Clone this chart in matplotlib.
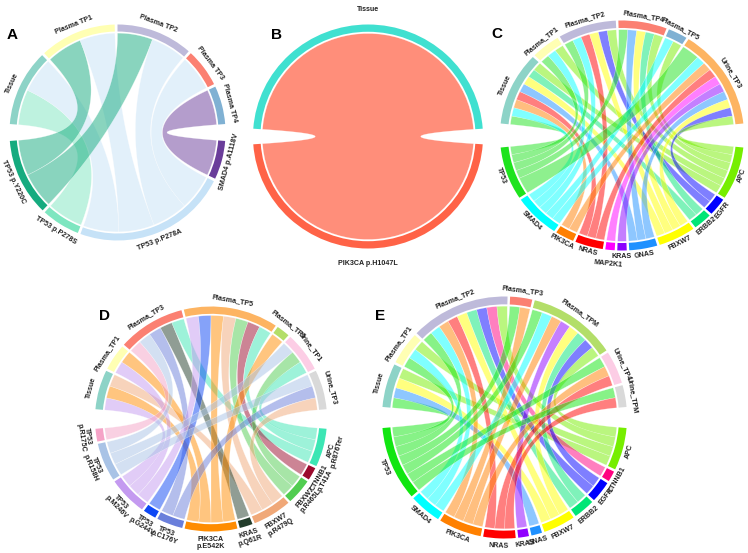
import numpy as np
import matplotlib
matplotlib.use("Agg")
import matplotlib.pyplot as plt
from matplotlib.patches import Wedge, Polygon
from matplotlib.colors import to_rgba

plt.rcParams['font.family'] = ['Liberation Sans', 'DejaVu Sans']

W, H = 748, 553

# --- panel A ---
A_samples = ['Tissue', 'Plasma TP1', 'Plasma TP2', 'Plasma TP3', 'Plasma TP4']
A_scol = ['#8dd3c7', '#ffffb3', '#bebada', '#fb8072', '#80b1d3']
A_genes = ['SMAD4 p.A1118V', 'TP53 p.P278A', 'TP53 p.P278S', 'TP53 p.Y220C']
A_gcol = ['#6a3d9a', '#c6e2f7', '#7ee6c0', '#15ab7f']
A_links = [('Tissue', 'TP53 p.P278S', 1), ('Tissue', 'TP53 p.P278A', 1),
           ('Plasma TP1', 'TP53 p.Y220C', 1), ('Plasma TP1', 'TP53 p.P278A', 1),
           ('Plasma TP2', 'TP53 p.Y220C', 1), ('Plasma TP2', 'TP53 p.P278A', 1),
           ('Plasma TP3', 'TP53 p.P278A', 1), ('Plasma TP4', 'SMAD4 p.A1118V', 1)]

# --- panel B ---
B_samples = ['Tissue']
B_scol = ['#40e0d0']
B_genes = ['PIK3CA p.H1047L']
B_gcol = ['#ff6347']
B_links = [('Tissue', 'PIK3CA p.H1047L', 1)]

# --- panel C ---
C_samples = ['Tissue', 'Plasma_TP1', 'Plasma_TP2', 'Plasma_TP4', 'Plasma_TP5', 'Urine_TP3']
C_scol = ['#8dd3c7', '#ffffb3', '#bebada', '#fb8072', '#80b1d3', '#fdb462']
C_genes = ['APC', 'EGFR', 'ERBB2', 'FBXW7', 'GNAS', 'KRAS', 'MAP2K1', 'NRAS', 'PIK3CA', 'SMAD4', 'TP53']
C_gcol = ['#76ee00', '#0000ff', '#00e676', '#ffff00', '#1e90ff', '#8b00ff', '#ff00ff',
          '#ff0000', '#ff7f00', '#00ffff', '#1ee31e']
C_links = [('Tissue', 'TP53', 1), ('Tissue', 'SMAD4', 1), ('Tissue', 'PIK3CA', 1), ('Tissue', 'NRAS', 1),
           ('Tissue', 'GNAS', 1), ('Tissue', 'FBXW7', 1), ('Tissue', 'ERBB2', 1), ('Tissue', 'APC', 1),
           ('Plasma_TP1', 'TP53', 1), ('Plasma_TP1', 'SMAD4', 1), ('Plasma_TP1', 'APC', 1),
           ('Plasma_TP2', 'TP53', 1), ('Plasma_TP2', 'SMAD4', 1), ('Plasma_TP2', 'NRAS', 1),
           ('Plasma_TP2', 'FBXW7', 1), ('Plasma_TP2', 'EGFR', 1), ('Plasma_TP2', 'APC', 1),
           ('Plasma_TP4', 'TP53', 1), ('Plasma_TP4', 'GNAS', 1), ('Plasma_TP4', 'FBXW7', 1),
           ('Plasma_TP4', 'ERBB2', 1), ('Plasma_TP4', 'APC', 1),
           ('Plasma_TP5', 'SMAD4', 1), ('Plasma_TP5', 'APC', 1),
           ('Urine_TP3', 'TP53', 2), ('Urine_TP3', 'SMAD4', 1), ('Urine_TP3', 'PIK3CA', 1),
           ('Urine_TP3', 'NRAS', 1), ('Urine_TP3', 'MAP2K1', 1), ('Urine_TP3', 'KRAS', 1),
           ('Urine_TP3', 'GNAS', 1), ('Urine_TP3', 'FBXW7', 1), ('Urine_TP3', 'EGFR', 1),
           ('Urine_TP3', 'APC', 1)]

# --- panel D ---
D_samples = ['Tissue', 'Plasma_TP1', 'Plasma_TP3', 'Plasma_TP5', 'Plasma_TP6', 'Urine_TP1', 'Urine_TP3']
D_scol = ['#8dd3c7', '#ffffb3', '#fb8072', '#fdb462', '#b3de69', '#fccde5', '#d9d9d9']
D_genes = ['APC\np.R876Ter', 'CTNNB1\np.T41A', 'FBXW7\np.R465L', 'FBXW7\np.R479Q', 'KRAS\np.Q61R',
           'PIK3CA\np.E542K', 'TP53\np.C176Y', 'TP53\np.G244V', 'TP53\np.M246V', 'TP53\np.R158H',
           'TP53\np.R175C']
D_gcol = ['#3ce6b4', '#9b0a2d', '#50cd50', '#f0a878', '#233d2b', '#ff8c00', '#6a7fdb',
          '#0d47f5', '#c49af0', '#a9c3e6', '#f5a3c7']
D_links = [('Tissue', 'TP53\np.M246V', 1), ('Tissue', 'PIK3CA\np.E542K', 1), ('Tissue', 'FBXW7\np.R479Q', 1),
           ('Plasma_TP1', 'TP53\np.M246V', 1), ('Plasma_TP1', 'PIK3CA\np.E542K', 1),
           ('Plasma_TP3', 'TP53\np.R175C', 1), ('Plasma_TP3', 'TP53\np.R158H', 1),
           ('Plasma_TP3', 'TP53\np.C176Y', 1), ('Plasma_TP3', 'KRAS\np.Q61R', 1),
           ('Plasma_TP3', 'APC\np.R876Ter', 1),
           ('Plasma_TP5', 'TP53\np.M246V', 1), ('Plasma_TP5', 'TP53\np.G244V', 1),
           ('Plasma_TP5', 'PIK3CA\np.E542K', 1), ('Plasma_TP5', 'FBXW7\np.R479Q', 1),
           ('Plasma_TP5', 'FBXW7\np.R465L', 1), ('Plasma_TP5', 'CTNNB1\np.T41A', 1),
           ('Plasma_TP5', 'APC\np.R876Ter', 1),
           ('Plasma_TP6', 'PIK3CA\np.E542K', 1),
           ('Urine_TP1', 'TP53\np.R158H', 1), ('Urine_TP1', 'FBXW7\np.R465L', 1),
           ('Urine_TP1', 'APC\np.R876Ter', 1),
           ('Urine_TP3', 'TP53\np.R158H', 1), ('Urine_TP3', 'TP53\np.C176Y', 1),
           ('Urine_TP3', 'FBXW7\np.R479Q', 1)]

# --- panel E ---
E_samples = ['Tissue', 'Plasma_TP1', 'Plasma_TP2', 'Plasma_TP3', 'Plasma_TPM', 'Urine_TP4', 'Urine_TPM']
E_scol = ['#8dd3c7', '#ffffb3', '#bebada', '#fb8072', '#b3de69', '#fccde5', '#d9d9d9']
E_genes = ['APC', 'CTNNB1', 'EGFR', 'ERBB2', 'FBXW7', 'GNAS', 'KRAS', 'NRAS', 'PIK3CA', 'SMAD4', 'TP53']
E_gcol = ['#76ee00', '#ff0080', '#0000ff', '#00e676', '#ffff00', '#1e90ff', '#8f00ff',
          '#ff0000', '#ff8000', '#00ffff', '#11e611']
E_links = [('Tissue', 'TP53', 1), ('Tissue', 'GNAS', 1), ('Tissue', 'FBXW7', 1), ('Tissue', 'APC', 1),
           ('Plasma_TP1', 'TP53', 1), ('Plasma_TP1', 'SMAD4', 1), ('Plasma_TP1', 'APC', 1),
           ('Plasma_TP2', 'TP53', 1), ('Plasma_TP2', 'SMAD4', 1), ('Plasma_TP2', 'PIK3CA', 1),
           ('Plasma_TP2', 'NRAS', 1), ('Plasma_TP2', 'FBXW7', 1), ('Plasma_TP2', 'ERBB2', 1),
           ('Plasma_TP2', 'EGFR', 1), ('Plasma_TP2', 'CTNNB1', 1), ('Plasma_TP2', 'APC', 1),
           ('Plasma_TP3', 'TP53', 1), ('Plasma_TP3', 'PIK3CA', 1),
           ('Plasma_TPM', 'TP53', 1), ('Plasma_TPM', 'SMAD4', 1), ('Plasma_TPM', 'PIK3CA', 1),
           ('Plasma_TPM', 'KRAS', 1), ('Plasma_TPM', 'FBXW7', 1), ('Plasma_TPM', 'ERBB2', 1),
           ('Plasma_TPM', 'EGFR', 1), ('Plasma_TPM', 'APC', 1),
           ('Urine_TP4', 'TP53', 1), ('Urine_TP4', 'PIK3CA', 1), ('Urine_TP4', 'NRAS', 1),
           ('Urine_TPM', 'TP53', 1), ('Urine_TPM', 'NRAS', 1)]

R_OUT, R_IN, R_LINK = 1.0, 0.935, 0.92

fig = plt.figure(figsize=(W / 100, H / 100), dpi=100)


def half_layout(values, start, end, gap):
    unit = (start - end - gap * (len(values) - 1)) / sum(values)
    spans, a = [], start
    for v in values:
        spans.append((a, a - v * unit))
        a -= v * unit + gap
    return spans


def pt(r, ang):
    t = np.radians(ang)
    return np.array([r * np.cos(t), r * np.sin(t)])


def arc(r, a1, a2, n=40):
    t = np.radians(np.linspace(a1, a2, n))
    return np.column_stack([r * np.cos(t), r * np.sin(t)])


def bez(p, q, n=60):
    # quadratic bezier, control point at the centre
    t = np.linspace(0, 1, n)[:, None]
    return (1 - t) ** 2 * p + t ** 2 * q


def ribbon(a1, a2, b1, b2, r=R_LINK):
    return np.vstack([arc(r, a1, a2), bez(pt(r, a2), pt(r, b1)),
                      arc(r, b1, b2), bez(pt(r, b2), pt(r, a1))])


def chord(cx, cy, rx, ry, samples, scol, genes, gcol, links,
          big=5.0, gap=1.3, alpha=0.5, lab_r=1.04, fs=5.1, shift=None):
    shift = shift or {}
    L = 1.5
    ax = fig.add_axes([(cx - L * rx) / W, 1 - (cy + L * ry) / H, 2 * L * rx / W, 2 * L * ry / H])
    ax.set_xlim(-L, L)
    ax.set_ylim(-L, L)
    ax.axis('off')

    stot = [sum(v for s, g, v in links if s == n) for n in samples]
    gtot = [sum(v for s, g, v in links if g == n) for n in genes]
    sspan = half_layout(stot, 180 - big, big, gap)
    gspan = half_layout(gtot, -big, -180 + big, gap)

    spos, gpos = {}, {}
    for i, n in enumerate(samples):
        a, b = sspan[i]
        u = (a - b) / stot[i]
        cur = a
        for s, g, v in sorted([l for l in links if l[0] == n], key=lambda l: -genes.index(l[1])):
            spos[(s, g)] = (cur, cur - v * u)
            cur -= v * u
    for i, n in enumerate(genes):
        a, b = gspan[i]
        u = (a - b) / gtot[i]
        cur = a
        for s, g, v in sorted([l for l in links if l[1] == n], key=lambda l: -samples.index(l[0])):
            gpos[(s, g)] = (cur, cur - v * u)
            cur -= v * u

    for s, g, v in links:
        a1, a2 = spos[(s, g)]
        b1, b2 = gpos[(s, g)]
        col = to_rgba(gcol[genes.index(g)], alpha)
        ax.add_patch(Polygon(ribbon(a1, a2, b1, b2), closed=True, fc=col,
                             ec=(1, 1, 1, 0.55), lw=0.3))

    for names, cols, spans, top in [(samples, scol, sspan, True), (genes, gcol, gspan, False)]:
        for n, c, (a, b) in zip(names, cols, spans):
            ax.add_patch(Wedge((0, 0), R_OUT, b, a, width=R_OUT - R_IN, fc=c, ec='none'))
            m = (a + b) / 2
            x, y = pt(lab_r + shift.get(n, 0), m)
            ax.text(x, y, n, rotation=m - 90 if top else m + 90, ha='center',
                    va='bottom' if top else 'top', rotation_mode='anchor',
                    fontsize=fs, fontweight='bold', color='#222222', clip_on=False,
                    linespacing=1.0)
    return ax


chord(117.5, 132.5, 108, 108, A_samples, A_scol, A_genes, A_gcol, A_links, big=4.5, gap=1.5)
chord(368, 136.5, 115, 112, B_samples, B_scol, B_genes, B_gcol, B_links, big=4.0, alpha=0.72, lab_r=1.1)
chord(622, 135.5, 122, 115, C_samples, C_scol, C_genes, C_gcol, C_links, big=6.0, gap=1.2,
      lab_r=1.02, shift={'MAP2K1': 0.07, 'APC': -0.01})
chord(211, 419, 116, 112.5, D_samples, D_scol, D_genes, D_gcol, D_links, big=5.0, gap=1.2)
chord(504.5, 417.5, 122.5, 121, E_samples, E_scol, E_genes, E_gcol, E_links, big=5.0, gap=1.2,
      lab_r=1.03)

for letter, x, y in [('A', 12, 35), ('B', 277, 35), ('C', 497, 34), ('D', 105, 316), ('E', 380, 316)]:
    fig.text(x / W, 1 - y / H, letter, fontsize=11, fontweight='bold', ha='center', va='center')

fig.savefig('out.png', dpi=100, facecolor='white')
